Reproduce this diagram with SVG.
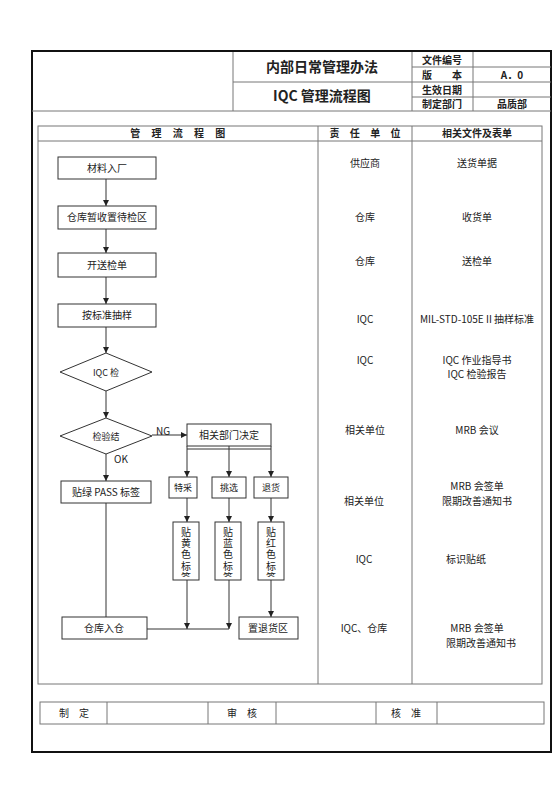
<svg xmlns="http://www.w3.org/2000/svg" width="560" height="792" viewBox="0 0 560 792">
<style>
text{font-family:"Noto Sans CJK SC","Noto Sans",sans-serif;fill:#222;text-anchor:middle}
.t{font-size:10px}
.v{font-size:10px;writing-mode:vertical-rl;text-anchor:start;letter-spacing:1.3px}
.b{font-weight:bold}
.tbl{fill:none;stroke:#777;stroke-width:1}
.box{fill:#fff;stroke:#333;stroke-width:1}
.ln{fill:none;stroke:#333;stroke-width:1}
.arr{fill:none;stroke:#333;stroke-width:1;marker-end:url(#ah)}
</style>
<defs>
<marker id="ah" markerUnits="userSpaceOnUse" markerWidth="6" markerHeight="6" refX="6" refY="3" orient="auto"><path d="M0,0 L6,3 L0,6 z" fill="#222"/></marker>
<clipPath id="c1"><rect x="173" y="522" width="26" height="55"/></clipPath>
<clipPath id="c2"><rect x="215" y="522" width="26" height="55"/></clipPath>
<clipPath id="c3"><rect x="258" y="522" width="26" height="55"/></clipPath>
</defs>
<rect x="0" y="0" width="560" height="792" fill="#fff"/>
<!-- header -->
<g id="header">
<rect x="32" y="51" width="519" height="701" fill="none" stroke="#111" stroke-width="2"/>
<line class="tbl" x1="32" y1="111" x2="551" y2="111"/>
<line class="tbl" x1="233" y1="52" x2="233" y2="111"/>
<line class="tbl" x1="412" y1="52" x2="412" y2="111"/>
<line class="tbl" x1="473" y1="52" x2="473" y2="111"/>
<line class="tbl" x1="233" y1="82" x2="551" y2="82"/>
<line class="tbl" x1="412" y1="67" x2="551" y2="67"/>
<line class="tbl" x1="412" y1="97" x2="551" y2="97"/>
<text x="322" y="72" class="b" font-size="14">内部日常管理办法</text>
<text x="322" y="101" class="b" font-size="14">IQC 管理流程图</text>
<text x="442" y="63.5" class="t b">文件编号</text>
<text x="442" y="78.5" class="t b">版　　本</text>
<text x="442" y="93.5" class="t b">生效日期</text>
<text x="442" y="108" class="t b">制定部门</text>
<text x="512" y="78.5" class="t b">A．0</text>
<text x="512" y="108" class="t b">品质部</text>
</g>
<!-- main table -->
<g id="table">
<rect class="tbl" x="38" y="126" width="504" height="558"/>
<line class="tbl" x1="38" y1="141" x2="542" y2="141"/>
<line class="tbl" x1="318" y1="126" x2="318" y2="684"/>
<line class="tbl" x1="412" y1="126" x2="412" y2="684"/>
<text x="180" y="137" class="t b" letter-spacing="4.5">管 理 流 程 图</text>
<text x="367" y="137" class="t b" letter-spacing="4">责 任 单 位</text>
<text x="477" y="137" class="t b">相关文件及表单</text>
<text x="365" y="167" class="t">供应商</text>
<text x="477" y="167" class="t">送货单据</text>
<text x="365" y="221" class="t">仓库</text>
<text x="477" y="221" class="t">收货单</text>
<text x="365" y="265" class="t">仓库</text>
<text x="477" y="265" class="t">送检单</text>
<text x="365" y="322.5" class="t">IQC</text>
<text x="477" y="322.5" class="t">MIL-STD-105E II 抽样标准</text>
<text x="365" y="364" class="t">IQC</text>
<text x="477" y="364" class="t">IQC 作业指导书</text>
<text x="477" y="378" class="t">IQC 检验报告</text>
<text x="365" y="434" class="t">相关单位</text>
<text x="477" y="434" class="t">MRB 会议</text>
<text x="477" y="489.5" class="t">MRB 会签单</text>
<text x="477" y="505" class="t">限期改善通知书</text>
<text x="364" y="505" class="t">相关单位</text>
<text x="364" y="562.5" class="t">IQC</text>
<text x="466" y="562.5" class="t">标识贴纸</text>
<text x="364" y="632" class="t">IQC、仓库</text>
<text x="477" y="632" class="t">MRB 会签单</text>
<text x="481" y="647" class="t">限期改善通知书</text>
</g>
<!-- sign row -->
<g id="signrow">
<rect class="tbl" x="40" y="702" width="504" height="22"/>
<line class="tbl" x1="107" y1="702" x2="107" y2="724"/>
<line class="tbl" x1="208" y1="702" x2="208" y2="724"/>
<line class="tbl" x1="276" y1="702" x2="276" y2="724"/>
<line class="tbl" x1="376" y1="702" x2="376" y2="724"/>
<line class="tbl" x1="437" y1="702" x2="437" y2="724"/>
<text x="74" y="716.5" class="t">制　定</text>
<text x="242" y="716.5" class="t">审　核</text>
<text x="406" y="716.5" class="t">核　准</text>
</g>
<!-- connectors -->
<g id="connectors">
<line class="arr" x1="106" y1="179" x2="106" y2="206"/>
<line class="arr" x1="106" y1="229" x2="106" y2="253"/>
<line class="arr" x1="106" y1="277" x2="106" y2="304"/>
<line class="arr" x1="106" y1="327" x2="106" y2="353"/>
<line class="arr" x1="106" y1="391" x2="106" y2="418"/>
<line class="arr" x1="106" y1="454" x2="106" y2="481"/>
<line class="ln" x1="106" y1="503" x2="106" y2="617"/>
<line class="arr" x1="152" y1="435" x2="187" y2="435"/>
<line class="ln" x1="187" y1="449" x2="271" y2="449"/>
<line class="arr" x1="187" y1="446" x2="187" y2="477"/>
<line class="arr" x1="229" y1="446" x2="229" y2="477"/>
<line class="arr" x1="271" y1="446" x2="271" y2="477"/>
<line class="arr" x1="187" y1="498" x2="187" y2="522"/>
<line class="arr" x1="229" y1="498" x2="229" y2="522"/>
<line class="arr" x1="271" y1="498" x2="271" y2="522"/>
<line class="ln" x1="147" y1="629" x2="229" y2="629"/>
<line class="arr" x1="187" y1="580" x2="187" y2="629"/>
<line class="arr" x1="229" y1="580" x2="229" y2="629"/>
<line class="arr" x1="271" y1="580" x2="271" y2="617"/>
<text x="163" y="435" font-size="10">NG</text>
<text x="121" y="463" font-size="10">OK</text>
</g>
<!-- nodes -->
<g id="n1"><rect class="box" x="58" y="157" width="98" height="22"/><text x="107" y="171.5" class="t">材料入厂</text></g>
<g id="n2"><rect class="box" x="58" y="206" width="98" height="23"/><text x="107" y="221" class="t">仓库暂收置待检区</text></g>
<g id="n3"><rect class="box" x="58" y="253" width="98" height="24"/><text x="107" y="268.5" class="t">开送检单</text></g>
<g id="n4"><rect class="box" x="58" y="304" width="98" height="23"/><text x="107" y="319" class="t">按标准抽样</text></g>
<g id="d1"><polygon class="box" points="106,353 152,372 106,391 60,372"/><text x="106" y="375.5" font-size="9">IQC 检</text></g>
<g id="d2"><polygon class="box" points="106,418 152,436 106,454 60,436"/><text x="106" y="439.5" font-size="9">检验结</text></g>
<g id="n5"><rect class="box" x="187" y="424" width="84" height="22"/><text x="229" y="438.5" class="t">相关部门决定</text></g>
<g id="n6"><rect class="box" x="61" y="481" width="90" height="22"/><text x="106" y="495.5" class="t">贴绿 PASS 标签</text></g>
<g id="n7"><rect class="box" x="169" y="477" width="28" height="21"/><text x="183" y="491" font-size="9">特采</text></g>
<g id="n8"><rect class="box" x="212" y="477" width="34" height="21"/><text x="229" y="491" font-size="9">挑选</text></g>
<g id="n9"><rect class="box" x="254" y="477" width="34" height="21"/><text x="271" y="491" font-size="9">退货</text></g>
<g id="n10"><rect class="box" x="173" y="522" width="26" height="58"/><text class="v" x="186" y="527" clip-path="url(#c1)">贴黄色标签</text></g>
<g id="n11"><rect class="box" x="215" y="522" width="26" height="58"/><text class="v" x="228" y="527" clip-path="url(#c2)">贴蓝色标签</text></g>
<g id="n12"><rect class="box" x="258" y="522" width="26" height="58"/><text class="v" x="271" y="527" clip-path="url(#c3)">贴红色标签</text></g>
<g id="n13"><rect class="box" x="62" y="617" width="85" height="22"/><text x="104" y="631.5" class="t">仓库入仓</text></g>
<g id="n14"><rect class="box" x="239" y="617" width="59" height="22"/><text x="268" y="631.5" class="t">置退货区</text></g>
</svg>
